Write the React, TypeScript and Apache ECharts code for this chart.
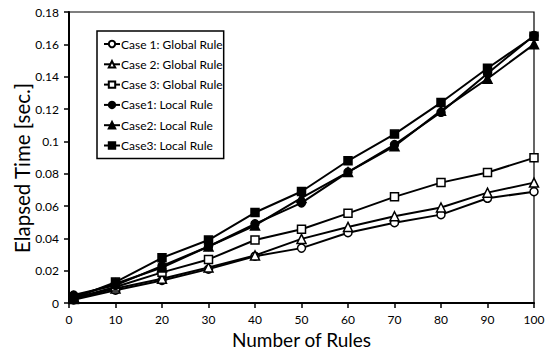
import React, { useEffect, useRef } from "react";
import * as echarts from "echarts";

const rules = [1, 10, 20, 30, 40, 50, 60, 70, 80, 90, 100];
const case1Global = [0.002, 0.008, 0.014, 0.021, 0.029, 0.034, 0.0435, 0.0497, 0.0547, 0.0648, 0.0689];
const case2Global = [0.0025, 0.009, 0.015, 0.022, 0.0295, 0.0397, 0.0471, 0.0537, 0.0591, 0.0683, 0.0745];
const case3Global = [0.003, 0.010, 0.019, 0.027, 0.039, 0.0457, 0.0555, 0.0657, 0.0745, 0.0808, 0.0898];
const case1Local = [0.005, 0.011, 0.023, 0.035, 0.049, 0.062, 0.081, 0.098, 0.118, 0.142, 0.1655];
const case2Local = [0.004, 0.012, 0.022, 0.035, 0.048, 0.065, 0.081, 0.097, 0.119, 0.1387, 0.160];
const case3Local = [0.003, 0.013, 0.028, 0.039, 0.056, 0.069, 0.088, 0.1045, 0.124, 0.1452, 0.165];

const seriesNames = [
  "Case 1: Global Rule",
  "Case 2: Global Rule",
  "Case 3: Global Rule",
  "Case1: Local Rule",
  "Case2: Local Rule",
  "Case3: Local Rule",
];
const seriesValues = [case1Global, case2Global, case3Global, case1Local, case2Local, case3Local];
const seriesSymbols = ["circle", "triangle", "rect", "circle", "triangle", "rect"];
const seriesFilled = [false, false, false, true, true, true];

const yAxisTitle = "Elapsed Time [sec.]";
const xAxisTitle = "Number of Rules";

const FONT = "Lato, 'Open Sans', sans-serif";

export default function App() {
  const ref = useRef<HTMLDivElement>(null);
  useEffect(() => {
    if (!ref.current) return;
    const chart = echarts.init(ref.current, null, { renderer: "svg" });
    const series = seriesNames.map((name, i) => ({
      name,
      type: "line",
      data: rules.map((x, j) => [x, seriesValues[i][j]]),
      symbol: seriesSymbols[i],
      symbolSize: seriesSymbols[i] === "triangle" ? 9 : 8,
      lineStyle: { color: "#000", width: 2 },
      itemStyle: {
        color: seriesFilled[i] ? "#000" : "#fff",
        borderColor: "#000",
        borderWidth: 1.5,
      },
      z: 2 + i,
    }));
    chart.setOption({
      animation: false,
      backgroundColor: "#fff",
      textStyle: { fontFamily: FONT },
      grid: {
        left: 69,
        right: 18,
        top: 12,
        bottom: 42,
        show: true,
        borderColor: "#000",
        borderWidth: 1.2,
      },
      graphic: [
        {
          type: "text",
          x: 22,
          y: 168,
          rotation: Math.PI / 2,
          style: {
            text: yAxisTitle,
            fontFamily: FONT,
            fontSize: 20.5,
            fill: "#000",
            align: "center",
            verticalAlign: "middle",
          },
        },
      ],
      legend: {
        orient: "vertical",
        left: 97,
        top: 31,
        padding: [7, 1, 7, 6],
        itemGap: 8.3,
        itemWidth: 16,
        itemHeight: 8,
        borderColor: "#000",
        borderWidth: 1.5,
        backgroundColor: "#fff",
        textStyle: { fontFamily: FONT, fontSize: 12, color: "#000", padding: [0, 0, 0, -4] },
        data: seriesNames,
      },
      xAxis: {
        type: "value",
        min: 0,
        max: 100,
        interval: 10,
        name: xAxisTitle,
        nameLocation: "middle",
        nameGap: 19,
        nameTextStyle: { fontFamily: FONT, fontSize: 19, color: "#000" },
        axisLine: { lineStyle: { color: "#000", width: 2 } },
        axisTick: { show: true, length: 5, lineStyle: { color: "#000", width: 1.5 } },
        axisLabel: { fontFamily: FONT, fontSize: 12, color: "#000", margin: 10 },
        splitLine: { show: false },
      },
      yAxis: {
        type: "value",
        min: 0,
        max: 0.18,
        interval: 0.02,
        axisLine: { show: true, lineStyle: { color: "#000", width: 2 } },
        axisTick: { show: true, length: 5, lineStyle: { color: "#000", width: 1.5 } },
        axisLabel: { fontFamily: FONT, fontSize: 12, color: "#000", margin: 10 },
        splitLine: { show: false },
      },
      series,
    });
    return () => chart.dispose();
  }, []);
  return <div ref={ref} style={{ width: 552, height: 354, position: "absolute", left: 0, top: 0 }} />;
}
